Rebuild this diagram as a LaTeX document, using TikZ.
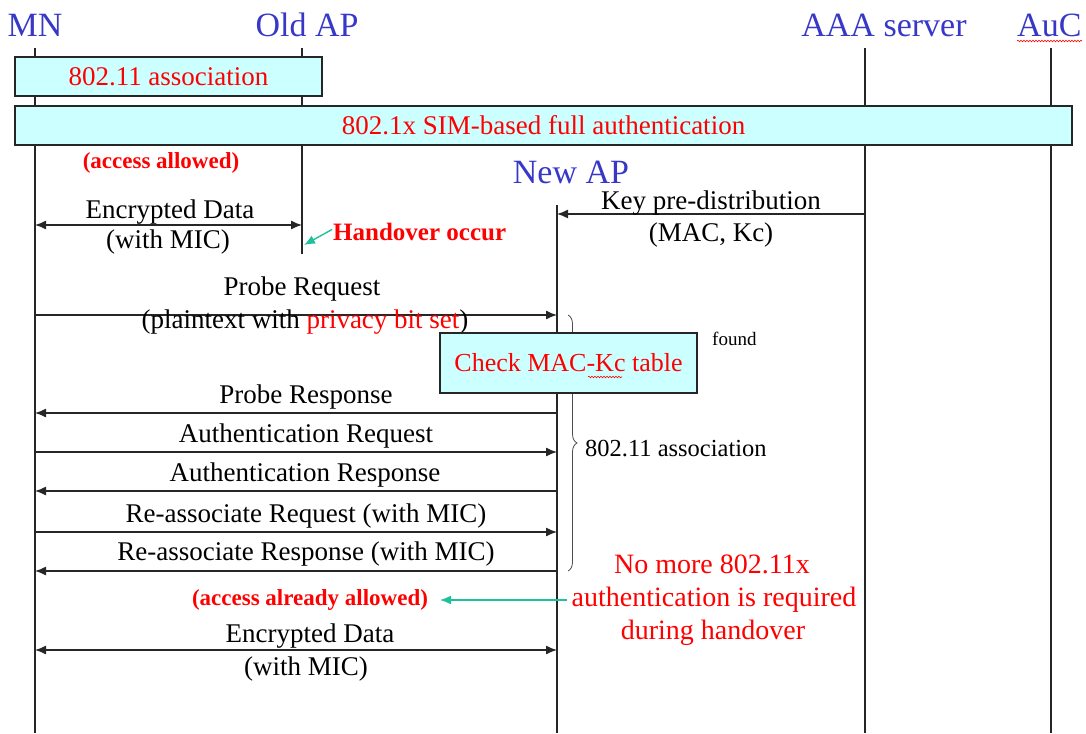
\documentclass[tikz,border=0pt]{standalone}
\usepackage{fontspec}
\setmainfont{Liberation Serif}
\usetikzlibrary{arrows.meta,decorations.pathreplacing,decorations.pathmorphing}
\definecolor{hdr}{HTML}{3838C8}
\definecolor{boxfill}{HTML}{CCFFFF}
\definecolor{grn}{HTML}{20C09A}
\definecolor{redt}{HTML}{FF0000}
\begin{document}
\begin{tikzpicture}[x=1pt,y=-1pt,
  life/.style={draw=black!85, line width=1.3pt},
  msg/.style={draw=black!85, line width=1.3pt, -{Latex[length=11pt,width=9pt]}},
  msgb/.style={draw=black!85, line width=1.3pt, {Latex[length=11pt,width=9pt]}-{Latex[length=11pt,width=9pt]}},
  garrow/.style={draw=grn, line width=1.4pt, -{Latex[length=11pt,width=9pt]}},
  lbl/.style={font=\fontsize{27}{30}\selectfont, inner sep=0pt, anchor=base},
  hdrlbl/.style={font=\fontsize{34}{38}\selectfont, text=hdr, inner sep=0pt, anchor=base},
  redsmall/.style={font=\bfseries\fontsize{23}{26}\selectfont, text=redt, inner sep=0pt, anchor=base},
  bandbox/.style={draw=black!85, line width=1.3pt, fill=boxfill, inner sep=0pt, text=redt},
  wavy/.style={draw=redt, line width=0.6pt, decorate, decoration={snake, amplitude=0.8pt, segment length=3pt}}
]
\useasboundingbox (0,0) rectangle (1086,733);

% headers
\node[hdrlbl] (mnh) at (35,37) {MN};
\node[hdrlbl] (oldh) at (307,37) {Old AP};
\node[hdrlbl] (aaah) at (884,37) {AAA server};
\node[hdrlbl, anchor=base west] (auch) at (1017,37) {AuC};
\draw[wavy] (1017,41) -- (1082,41);
\node[hdrlbl] (newh) at (571,183) {New AP};

% lifeline coordinates
\coordinate (mnT) at (35,48);   \coordinate (mnB) at (35,733);
\coordinate (oldT) at (302,48); \coordinate (oldB) at (302,254);
\coordinate (newT) at (557,205);\coordinate (newB) at (557,733);
\coordinate (aaaT) at (865,48); \coordinate (aaaB) at (865,733);
\coordinate (aucT) at (1051,48);\coordinate (aucB) at (1051,733);
\draw[life] (mnT) -- (mnB);
\draw[life] (oldT) -- (oldB);
\draw[life] (newT) -- (newB);
\draw[life] (aaaT) -- (aaaB);
\draw[life] (aucT) -- (aucB);

% bands
\node[bandbox, minimum width=307pt, minimum height=39pt, font=\fontsize{27}{30}\selectfont] (assoc) at (168.5,76.5) {802.11 association};
\node[bandbox, minimum width=1057pt, minimum height=39pt, font=\fontsize{27}{30}\selectfont] (full) at (543.5,125.5) {802.1x SIM-based full authentication};

\node[redsmall] (allowed) at (161,168) {(access allowed)};

% encrypted data (old AP)
\coordinate (ed1a) at (35,225); \coordinate (ed1b) at (302,225);
\draw[msgb] (ed1a) -- (ed1b);
\node[lbl] (ed1l) at (170,218) {Encrypted Data};
\node[lbl] (ed1m) at (168,248) {(with MIC)};

% handover
\node[font=\bfseries\fontsize{25}{28}\selectfont, text=redt, inner sep=0pt, anchor=base west] (hand) at (333,240) {Handover occur};
\coordinate (handtgt) at (304,245);
\draw[garrow] ([xshift=-1pt,yshift=2pt]hand.west) -- (handtgt);

% key pre-distribution
\coordinate (kpa) at (865,214); \coordinate (kpb) at (557,214);
\draw[msg] (kpa) -- (kpb);
\node[lbl] (kpl) at (711,209) {Key pre-distribution};
\node[lbl] (kpm) at (711,241) {(MAC, Kc)};

% brace
\draw[draw=black!70, line width=0.8pt, decorate, decoration={brace, amplitude=9pt}] (568,315) -- (568,571);
\node[font=\fontsize{24.5}{28}\selectfont, inner sep=0pt, anchor=base west] (assoc2) at (585,456) {802.11 association};

% probe request
\coordinate (prA) at (35,315); \coordinate (prB) at (557,315);
\draw[msg] (prA) -- (prB);
\node[lbl] (prl) at (302,295) {Probe Request};
\node[lbl] (prm) at (305,328) {(plaintext with \textcolor{redt}{privacy bit set})};

% check box
\node[bandbox, minimum width=257pt, minimum height=60pt, font=\fontsize{26}{30}\selectfont] (check) at (568.5,363) {Check MAC-Kc table};
\draw[wavy] (588,377) -- (622,377);
\node[font=\fontsize{19}{22}\selectfont, inner sep=0pt, anchor=base west] (found) at (712,345) {found};

% probe response
\coordinate (psA) at (557,413); \coordinate (psB) at (35,413);
\draw[msg] (psA) -- (psB);
\node[lbl] (psl) at (306,403) {Probe Response};

% auth request
\coordinate (arA) at (35,452); \coordinate (arB) at (557,452);
\draw[msg] (arA) -- (arB);
\node[lbl] (arl) at (306,442) {Authentication Request};

% auth response
\coordinate (asA) at (557,491); \coordinate (asB) at (35,491);
\draw[msg] (asA) -- (asB);
\node[lbl] (asl) at (305,481) {Authentication Response};

% reassoc request
\coordinate (rrA) at (35,532); \coordinate (rrB) at (557,532);
\draw[msg] (rrA) -- (rrB);
\node[lbl] (rrl) at (306,522) {Re-associate Request (with MIC)};

% reassoc response
\coordinate (rsA) at (557,571); \coordinate (rsB) at (35,571);
\draw[msg] (rsA) -- (rsB);
\node[lbl] (rsl) at (306,560) {Re-associate Response (with MIC)};

% access already allowed
\node[redsmall] (already) at (310,605) {(access already allowed)};
\node[font=\fontsize{28}{32}\selectfont, text=redt, inner sep=0pt, anchor=base] (nm1) at (712,573) {No more 802.11x};
\node[font=\fontsize{28}{32}\selectfont, text=redt, inner sep=0pt, anchor=base] (nm2) at (714,606) {authentication is required};
\node[font=\fontsize{28}{32}\selectfont, text=redt, inner sep=0pt, anchor=base] (nm3) at (713,639) {during handover};
\coordinate (gsrc) at (567,600); \coordinate (gdst) at (440,600);
\draw[garrow] (gsrc) -- (gdst);

% encrypted data (new AP)
\coordinate (ed2a) at (35,650); \coordinate (ed2b) at (557,650);
\draw[msgb] (ed2a) -- (ed2b);
\node[lbl] (ed2l) at (310,642) {Encrypted Data};
\node[lbl] (ed2m) at (306,675) {(with MIC)};
\end{tikzpicture}
\end{document}
